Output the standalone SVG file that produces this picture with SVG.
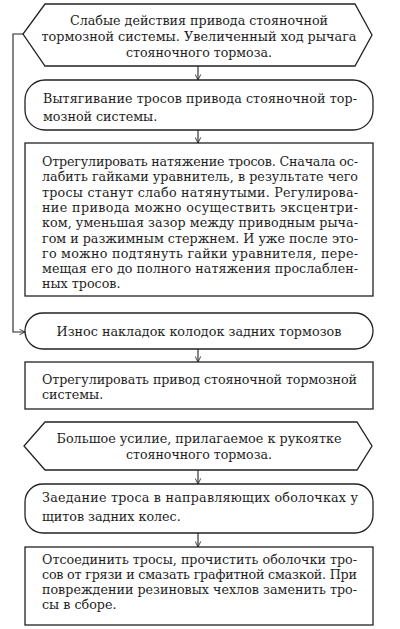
<svg xmlns="http://www.w3.org/2000/svg" width="400" height="629" viewBox="0 0 400 629">
<style>
.n{fill:#fff;stroke:#222;stroke-width:1.3}
.c{fill:none;stroke:#222;stroke-width:1.1}
text{font-family:"DejaVu Serif","Liberation Serif",serif;font-size:12.7px;fill:#1e1e1e}
.m{text-anchor:middle}
</style>
<defs>
<marker id="a" viewBox="0 0 10 10" refX="9" refY="5" markerWidth="7" markerHeight="7" orient="auto" markerUnits="userSpaceOnUse">
<path d="M1,1 L9,5 L1,9" fill="none" stroke="#222" stroke-width="1.2"/>
</marker>
</defs>
<rect width="400" height="629" fill="#fff"/>
<g id="connectors">
<line class="c" x1="198" y1="66" x2="198" y2="80" marker-end="url(#a)"/>
<line class="c" x1="198" y1="130" x2="198" y2="143" marker-end="url(#a)"/>
<line class="c" x1="198" y1="349" x2="198" y2="362" marker-end="url(#a)"/>
<line class="c" x1="198" y1="470" x2="198" y2="484" marker-end="url(#a)"/>
<line class="c" x1="198" y1="533" x2="198" y2="547" marker-end="url(#a)"/>
<path class="c" d="M23,34 H13 V332 H25" marker-end="url(#a)"/>
</g>
<g id="n1">
<polygon class="n" points="45,4 355,4 372,35 355,66 45,66 23,34"/>
<text class="m" x="199" y="25" textLength="258" lengthAdjust="spacingAndGlyphs">Слабые действия привода стояночной</text>
<text class="m" x="199" y="41" textLength="315" lengthAdjust="spacingAndGlyphs">тормозной системы. Увеличенный ход рычага</text>
<text class="m" x="199" y="57" textLength="146" lengthAdjust="spacingAndGlyphs">стояночного тормоза.</text>
</g>
<g id="n2">
<rect class="n" x="25" y="80" width="348" height="50" rx="20"/>
<text x="43" y="103" textLength="314" lengthAdjust="spacing">Вытягивание тросов привода стояночной тор-</text>
<text x="43" y="121">мозной системы.</text>
</g>
<g id="n3">
<rect class="n" x="25" y="143" width="348" height="153"/>
<text x="42" y="166" textLength="316" lengthAdjust="spacing">Отрегулировать натяжение тросов. Сначала ос-</text>
<text x="42" y="181" textLength="316" lengthAdjust="spacing">лабить гайками уравнитель, в результате чего</text>
<text x="42" y="196.5" textLength="316" lengthAdjust="spacing">тросы станут слабо натянутыми. Регулирова-</text>
<text x="42" y="212" textLength="316" lengthAdjust="spacing">ние привода можно осуществить эксцентри-</text>
<text x="42" y="227" textLength="316" lengthAdjust="spacing">ком, уменьшая зазор между приводным рыча-</text>
<text x="42" y="242.5" textLength="316" lengthAdjust="spacing">гом и разжимным стержнем. И уже после это-</text>
<text x="42" y="258" textLength="316" lengthAdjust="spacing">го можно подтянуть гайки уравнителя, пере-</text>
<text x="42" y="273" textLength="316" lengthAdjust="spacing">мещая его до полного натяжения прослаблен-</text>
<text x="42" y="288">ных тросов.</text>
</g>
<g id="n4">
<rect class="n" x="25" y="313" width="348" height="36" rx="18"/>
<text class="m" x="199" y="336" textLength="285" lengthAdjust="spacingAndGlyphs">Износ накладок колодок задних тормозов</text>
</g>
<g id="n5">
<rect class="n" x="25" y="362" width="348" height="47"/>
<text x="42" y="384" textLength="315" lengthAdjust="spacing">Отрегулировать привод стояночной тормозной</text>
<text x="42" y="399">системы.</text>
</g>
<g id="n6">
<polygon class="n" points="45,422 357,422 372,446 357,470 45,470 24,446"/>
<text class="m" x="199" y="443" textLength="285" lengthAdjust="spacingAndGlyphs">Большое усилие, прилагаемое к рукоятке</text>
<text class="m" x="199" y="459" textLength="146" lengthAdjust="spacingAndGlyphs">стояночного тормоза.</text>
</g>
<g id="n7">
<rect class="n" x="25" y="484" width="348" height="49" rx="18"/>
<text x="42" y="502" textLength="316" lengthAdjust="spacing">Заедание троса в направляющих оболочках у</text>
<text x="42" y="521">щитов задних колес.</text>
</g>
<g id="n8">
<rect class="n" x="25" y="547" width="348" height="78"/>
<text x="42" y="564" textLength="315" lengthAdjust="spacing">Отсоединить тросы, прочистить оболочки тро-</text>
<text x="42" y="579" textLength="315" lengthAdjust="spacing">сов от грязи и смазать графитной смазкой. При</text>
<text x="42" y="594" textLength="315" lengthAdjust="spacing">повреждении резиновых чехлов заменить тро-</text>
<text x="42" y="609">сы в сборе.</text>
</g>
</svg>
